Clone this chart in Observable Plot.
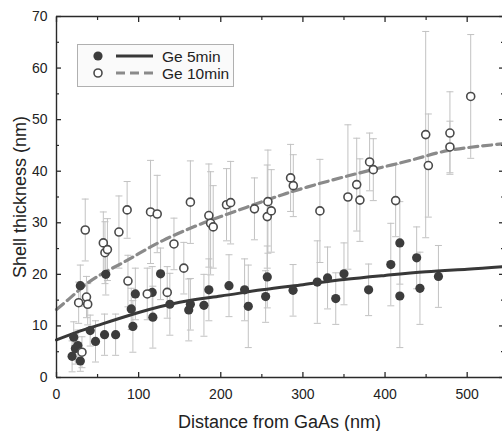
<!DOCTYPE html>
<html><head><meta charset="utf-8">
<script src="https://cdn.jsdelivr.net/npm/d3@7"></script>
<script src="https://cdn.jsdelivr.net/npm/@observablehq/plot@0.6"></script>
<style>
body{margin:0;background:#fff;font-family:"Liberation Sans",Arial,sans-serif}
#wrap{position:relative;width:502px;height:431px}
#legend{position:absolute;left:77px;top:44px;width:155px;height:41px;border:1px solid #b0b0b0;background:#fafafa;font-size:15.5px;color:#222}
</style>
</head><body>
<div id="wrap"><div id="chart"></div><div id="legend"></div></div>
<script>
// Ge 5min (filled)
const x5 = [19,21,23,26,29,29,41,47.5,58.5,60,72,91,93,96,116.5,117.3,126.7,138,161,163,179.5,185.5,210,229,233.5,254.6,256.6,288,317.5,330,340,350,380,407,418,418,438.5,442.5,465];
const y5 = [4.1,7.8,5.6,6.2,3.2,17.8,9.1,7.0,8.3,20.0,8.3,13.3,9.9,16.2,16.5,11.7,20.1,14.2,13.1,14.2,14.0,17.0,17.8,17.0,13.8,15.7,19.5,16.9,18.5,19.3,15.3,20.1,17.0,21.9,26.1,15.8,23.2,17.3,19.6];
const e5 = [3,3,3,3,2,4,3,4,4,4,4,4,5,5,5,6,5,6,6,5,6,6,6,6,8,5,6,5,8,6,5,6,5,8,8,10,6,7,6];
// Ge 10min (open)
const x10 = [27,31,35,36.5,38,57,59,62,76,86,87,110.5,114.5,122.6,134.8,143,155,163,185.5,187.6,190.8,207,212,241,256.6,257.4,261.5,285,288.3,320.7,354.8,365.5,369.4,381.2,385.7,412.9,449.5,452.7,479,479,504.3];
const y10 = [14.5,4.9,28.6,15.6,14.2,26.1,24.2,24.8,28.2,32.5,18.7,16.2,32.1,31.7,16.5,25.9,21.2,34.0,31.4,29.9,29.2,33.5,33.9,32.7,31.2,34.1,32.3,38.7,37.2,32.3,35.0,37.4,34.4,41.8,40.3,34.3,47.1,41.1,47.4,44.7,54.5];
const e10 = [4,3,6,4,4,6,6,6,7,5.5,5,5,10,7.5,5,5,5,8,10,10,8,7,8,6,10,10,8,6.5,6,10,14,9,8,5.6,6,7,20,10,8,5,12];
// fit curves
const fx5 = [0,25,50,100,150,200,250,300,350,400,450,500,543];
const fy5 = [7.3,8.8,10.1,12.6,14.6,15.8,17.0,18.0,19.0,19.8,20.5,21.0,21.5];
const fx10 = [0,15,30,50,80,100,130,170,200,240,280,320,360,400,440,480,543];
const fy10 = [13.2,15.2,17.3,19.6,22.2,24.0,26.6,29.4,31.2,33.5,35.7,37.6,39.3,40.9,42.5,44.1,45.3];
const xTicks = [0,100,200,300,400,500];
const xMinor = [50,150,250,350,450];
const yTicks = [0,10,20,30,40,50,60,70];
const yMinor = [5,15,25,35,45,55,65];
const seriesNames = ["Ge 5min","Ge 10min"];

const d5 = x5.map((x,i)=>({x, y:y5[i], lo:y5[i]-e5[i], hi:y5[i]+e5[i]}));
const d10 = x10.map((x,i)=>({x, y:y10[i], lo:y10[i]-e10[i], hi:y10[i]+e10[i]}));
const f5 = fx5.map((x,i)=>({x, y:fy5[i]}));
const f10 = fx10.map((x,i)=>({x, y:fy10[i]}));

const cap = {draw(ctx, size){ const r = 3.5; ctx.moveTo(-r,0); ctx.lineTo(r,0); }};
const errCol = "#c2c2c2";
const axisCol = "#2a2a2a";
const font = "Liberation Sans, Arial, sans-serif";

const plot = Plot.plot({
  width: 502, height: 431,
  marginLeft: 56, marginRight: 0, marginTop: 16, marginBottom: 54,
  x: {domain: [0, 543]},
  y: {domain: [0, 70]},
  style: {fontFamily: font, fontSize: "14px", color: "#222", background: "transparent"},
  marks: [
    Plot.ruleX(d10, {x:"x", y1:"lo", y2:"hi", stroke: errCol, strokeWidth: 1}),
    Plot.dot(d10, {x:"x", y:"lo", symbol: cap, stroke: errCol, strokeWidth: 1}),
    Plot.dot(d10, {x:"x", y:"hi", symbol: cap, stroke: errCol, strokeWidth: 1}),
    Plot.ruleX(d5, {x:"x", y1:"lo", y2:"hi", stroke: errCol, strokeWidth: 1}),
    Plot.dot(d5, {x:"x", y:"lo", symbol: cap, stroke: errCol, strokeWidth: 1}),
    Plot.dot(d5, {x:"x", y:"hi", symbol: cap, stroke: errCol, strokeWidth: 1}),
    Plot.line(f10, {x:"x", y:"y", curve:"natural", stroke:"#8a8a8a", strokeWidth:3.2, strokeDasharray:"9,5"}),
    Plot.line(f5, {x:"x", y:"y", curve:"natural", stroke:"#383838", strokeWidth:3}),
    Plot.dot(d5, {x:"x", y:"y", r:4.6, fill:"#3c3c3c", stroke:"none"}),
    Plot.dot(d10, {x:"x", y:"y", r:4, fill:"#fff", stroke:"#4a4a4a", strokeWidth:1.6}),
    Plot.ruleX([0], {stroke: axisCol, strokeWidth: 1.4}),
    Plot.ruleY([0], {stroke: axisCol, strokeWidth: 1.4}),
    Plot.ruleY([70], {stroke: axisCol, strokeWidth: 1.4}),
    Plot.axisX(xTicks, {anchor:"bottom", tickSize:0, tickPadding:12, fontSize:14, label:"Distance from GaAs (nm)", labelAnchor:"center", labelArrow:"none", labelOffset:50}),
    Plot.axisX(xTicks, {anchor:"bottom", tickSize:-5, tickFormat:()=>"", label:null, stroke:axisCol, strokeWidth:1.3}),
    Plot.axisX(xMinor, {anchor:"bottom", tickSize:-3, tickFormat:()=>"", label:null, stroke:axisCol, strokeWidth:1.2}),
    Plot.axisX(xTicks, {anchor:"top", tickSize:-5, tickFormat:()=>"", label:null, stroke:axisCol, strokeWidth:1.3}),
    Plot.axisX(xMinor, {anchor:"top", tickSize:-3, tickFormat:()=>"", label:null, stroke:axisCol, strokeWidth:1.2}),
    Plot.axisY(yTicks, {anchor:"left", tickSize:0, tickPadding:9, fontSize:14, label:"Shell thickness (nm)", labelAnchor:"center", labelArrow:"none", labelOffset:43}),
    Plot.axisY(yTicks, {anchor:"left", tickSize:-5, tickFormat:()=>"", label:null, stroke:axisCol, strokeWidth:1.3}),
    Plot.axisY(yMinor, {anchor:"left", tickSize:-3, tickFormat:()=>"", label:null, stroke:axisCol, strokeWidth:1.2}),
    Plot.axisY(yTicks, {anchor:"right", tickSize:-4, tickFormat:()=>"", label:null, stroke:axisCol, strokeWidth:1.3}),
    Plot.axisY(yMinor, {anchor:"right", tickSize:-2, tickFormat:()=>"", label:null, stroke:axisCol, strokeWidth:1.2})
  ]
});
document.getElementById("chart").appendChild(plot);
d3.select(plot).selectAll("[aria-label$='axis label'] text, g[aria-label$='axis label']").attr("font-size", 18);

const lg = d3.select("#legend").append("svg").attr("width",155).attr("height",41).style("position","absolute").style("left",0).style("top",0);
lg.append("circle").attr("cx",20).attr("cy",11).attr("r",4.6).attr("fill","#3c3c3c");
lg.append("line").attr("x1",38).attr("x2",75).attr("y1",11).attr("y2",11).attr("stroke","#383838").attr("stroke-width",3);
lg.append("circle").attr("cx",20).attr("cy",28).attr("r",4).attr("fill","#fff").attr("stroke","#4a4a4a").attr("stroke-width",1.6);
lg.append("line").attr("x1",38).attr("x2",75).attr("y1",28).attr("y2",28).attr("stroke","#8a8a8a").attr("stroke-width",3.2).attr("stroke-dasharray","9,5");
lg.selectAll("text.t").data(seriesNames).join("text").attr("x",84).attr("y",(d,i)=>[11,28][i]).attr("dy","0.36em").attr("font-size",15.5).attr("fill","#222").attr("font-family",font).text(d=>d);
</script>
</body></html>
